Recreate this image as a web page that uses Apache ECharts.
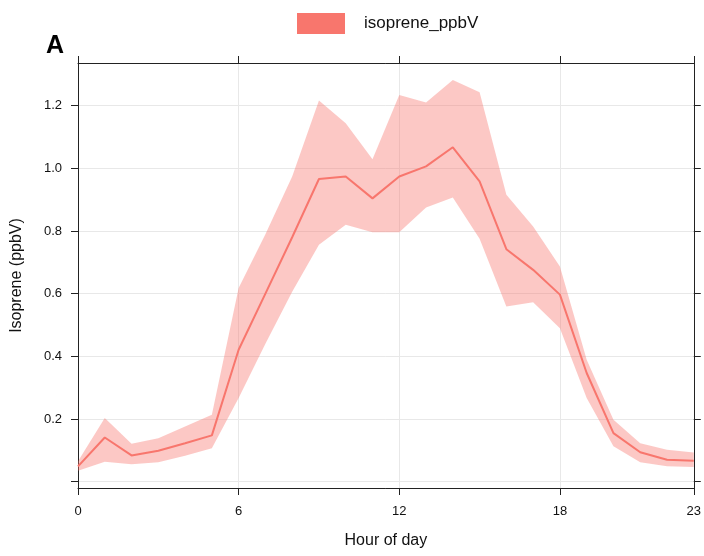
<!DOCTYPE html>
<html>
<head>
<meta charset="utf-8">
<script src="https://cdn.jsdelivr.net/npm/echarts@6/dist/echarts.min.js"></script>
<style>
  html, body { margin: 0; padding: 0; background: #fff; }
  #chart { width: 704px; height: 556px; }
</style>
</head>
<body>
<div id="chart"></div>
<script>
// Diurnal isoprene profile: hourly mean with its confidence band
const hours = [0,1,2,3,4,5,6,7,8,9,10,11,12,13,14,15,16,17,18,19,20,21,22,23];
const isopreneMean = [0.049,0.141,0.084,0.099,0.123,0.148,0.421,0.600,0.780,0.966,0.974,0.904,
                      0.974,1.006,1.067,0.958,0.742,0.676,0.597,0.347,0.155,0.094,0.070,0.067];
const isopreneUpper = [0.065,0.203,0.121,0.139,0.176,0.214,0.618,0.790,0.974,1.216,1.144,1.029,
                       1.234,1.210,1.282,1.243,0.916,0.814,0.687,0.389,0.198,0.123,0.102,0.093];
const isopreneLower = [0.035,0.064,0.056,0.062,0.083,0.107,0.267,0.440,0.606,0.756,0.820,0.796,
                       0.796,0.875,0.907,0.775,0.559,0.573,0.490,0.267,0.113,0.062,0.049,0.047];
const xTicks = [0, 6, 12, 18, 23];
const yTicks = [0, 0.2, 0.4, 0.6, 0.8, 1.0, 1.2];

const seriesName = 'isoprene_ppbV';
const lineColor = '#F8766D';
const bandColor = 'rgba(248,118,109,0.4)';
const frameColor = '#222';
const gridColor = '#e8e8e8';
const textColor = '#111';
const font = 'Liberation Sans, Arial, sans-serif';

const meanData = hours.map((h, i) => [h, isopreneMean[i]]);
const bandData = hours.map((h, i) => [h, isopreneLower[i], isopreneUpper[i]]);

const chart = echarts.init(document.getElementById('chart'), null, { renderer: 'canvas' });

const frameLine = { show: true, onZero: false, lineStyle: { color: frameColor, width: 1 } };

const baseX = {
  type: 'value', min: 0, max: 23, interval: 6,
  axisLine: frameLine,
  axisTick: { show: true, length: 7, lineStyle: { color: frameColor }, customValues: xTicks }
};
const baseY = {
  type: 'value', min: -0.02, max: 1.336, splitNumber: 7,
  axisLine: frameLine,
  axisTick: { show: true, length: 7, lineStyle: { color: frameColor }, customValues: yTicks }
};

chart.setOption({
  animation: false,
  backgroundColor: '#fff',
  title: {
    text: 'A', left: 41, top: 29,
    textStyle: { fontFamily: font, fontSize: 25, fontWeight: 'bold', color: '#000' }
  },
  legend: {
    data: [{ name: seriesName, icon: 'rect' }],
    left: 292, top: 8,
    itemWidth: 48, itemHeight: 21,
    textStyle: { fontFamily: font, fontSize: 17, color: textColor, padding: [0, 0, 0, 14] }
  },
  grid: { left: 78, right: 8, top: 63, bottom: 68, containLabel: false },
  xAxis: [
    Object.assign({}, baseX, {
      position: 'bottom',
      name: 'Hour of day', nameLocation: 'middle', nameGap: 45,
      nameTextStyle: { fontFamily: font, fontSize: 16, color: textColor },
      axisLabel: { show: true, margin: 17, fontFamily: font, fontSize: 13, color: textColor, customValues: xTicks },
      splitLine: { show: true, lineStyle: { color: gridColor, width: 1 } }
    }),
    Object.assign({}, baseX, {
      position: 'top',
      axisLabel: { show: false },
      splitLine: { show: false }
    })
  ],
  yAxis: [
    Object.assign({}, baseY, {
      position: 'left',
      name: 'Isoprene (ppbV)', nameLocation: 'middle', nameGap: 53,
      nameTextStyle: { fontFamily: font, fontSize: 16, color: textColor },
      axisLabel: {
        show: true, margin: 16, fontFamily: font, fontSize: 13, color: textColor,
        customValues: yTicks.slice(1),
        formatter: v => v.toFixed(1)
      },
      splitLine: { show: true, lineStyle: { color: gridColor, width: 1 } }
    }),
    Object.assign({}, baseY, {
      position: 'right',
      axisLabel: { show: false },
      splitLine: { show: false }
    })
  ],
  series: [
    {
      type: 'custom',
      name: 'band',
      silent: true,
      z: 1,
      data: bandData,
      encode: { x: 0, y: [1, 2] },
      renderItem: function (params, api) {
        if (params.dataIndex !== 0) return null;
        const upper = bandData.map(d => api.coord([d[0], d[2]]));
        const lower = bandData.slice().reverse().map(d => api.coord([d[0], d[1]]));
        return {
          type: 'polygon',
          shape: { points: upper.concat(lower) },
          style: { fill: bandColor }
        };
      }
    },
    {
      type: 'line',
      name: seriesName,
      data: meanData,
      z: 3,
      showSymbol: false,
      symbol: 'none',
      itemStyle: { color: lineColor },
      lineStyle: { color: lineColor, width: 2 }
    }
  ]
});
</script>
</body>
</html>
